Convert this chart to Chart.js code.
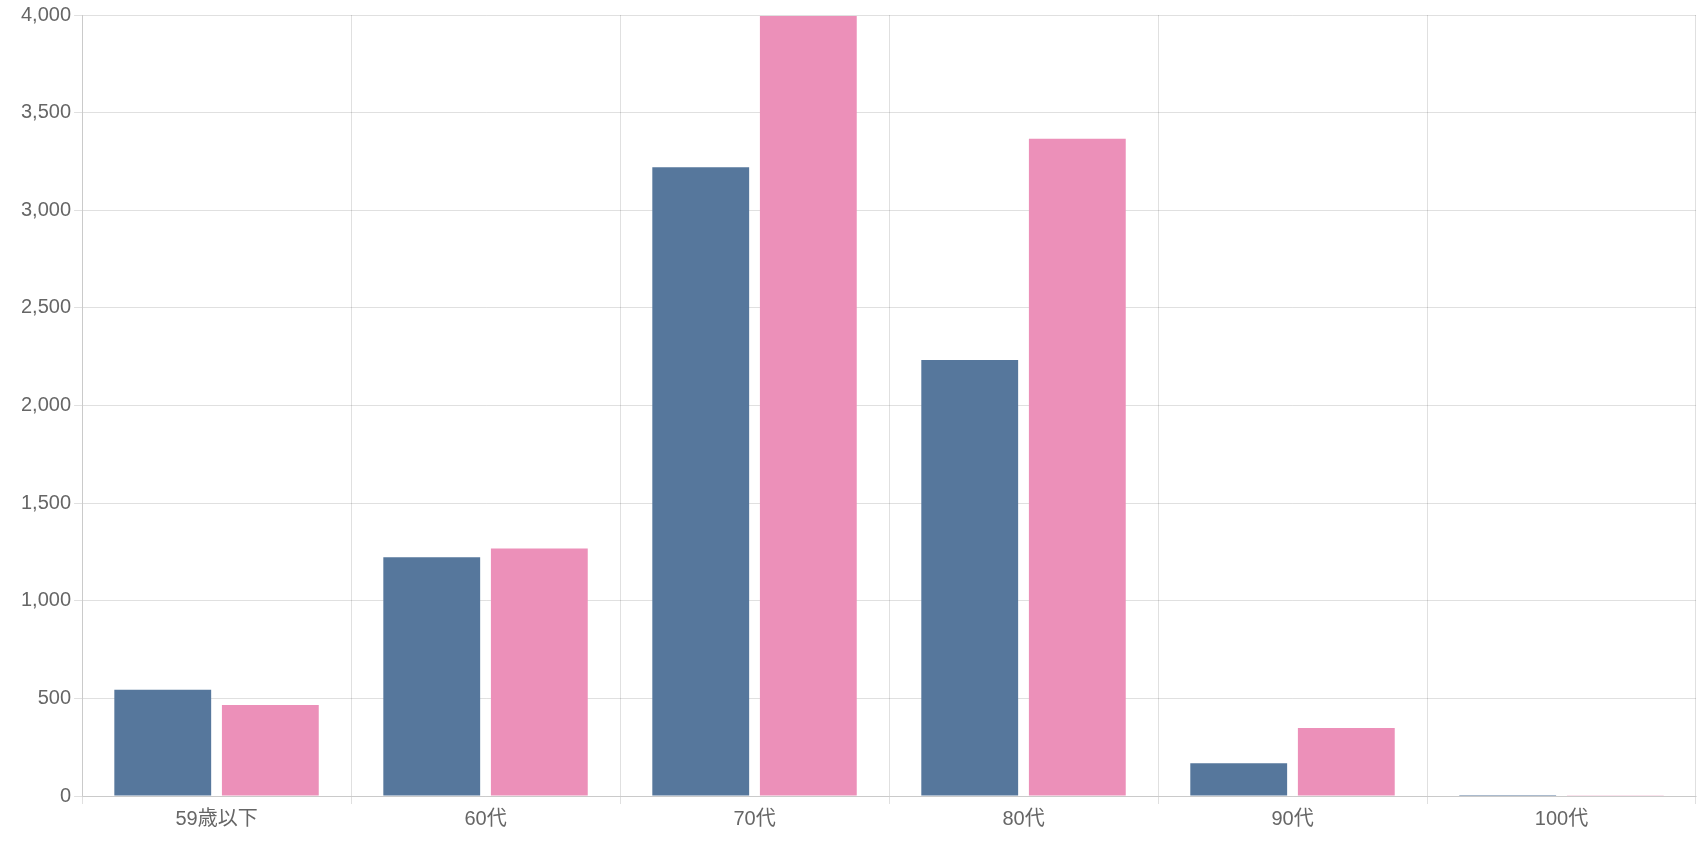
<!DOCTYPE html>
<html>
<head>
<meta charset="utf-8">
<script src="https://cdn.jsdelivr.net/npm/chart.js@4"></script>
<style>
  html, body { margin: 0; padding: 0; background: #fff; }
  #wrap { width: 1700px; height: 850px; }
</style>
</head>
<body>
<div id="wrap"><canvas id="ageChart"></canvas></div>
<script>
// 年代別データ
const categories = ['59歳以下', '60代', '70代', '80代', '90代', '100代'];
const seriesMale = [544, 1223, 3220, 2233, 168, 5];
const seriesFemale = [466, 1268, 3995, 3366, 348, 1];

const ctx = document.getElementById('ageChart').getContext('2d');
new Chart(ctx, {
    type: 'bar',
    data: {
        labels: categories,
        datasets: [
            { label: '男性', data: seriesMale, backgroundColor: '#56779c' },
            { label: '女性', data: seriesFemale, backgroundColor: '#ec90b9' }
        ]
    },
    options: {
        responsive: true,
        maintainAspectRatio: false,
        animation: false,
        layout: { padding: { top: 12, right: 4, left: 18, bottom: 16 } },
        plugins: {
            legend: { display: false },
            tooltip: { enabled: false }
        },
        scales: {
            y: {
                beginAtZero: true,
                max: 4000,
                ticks: {
                    stepSize: 500,
                    color: '#666',
                    font: { size: 20, family: 'Liberation Sans, Arial, sans-serif' }
                },
                grid: { color: 'rgba(0,0,0,0.12)' }
            },
            x: {
                ticks: {
                    color: '#666',
                    font: { size: 20, family: 'Liberation Sans, "Noto Sans CJK JP", sans-serif' }
                },
                grid: { color: 'rgba(0,0,0,0.12)' }
            }
        }
    }
});
</script>
</body>
</html>
